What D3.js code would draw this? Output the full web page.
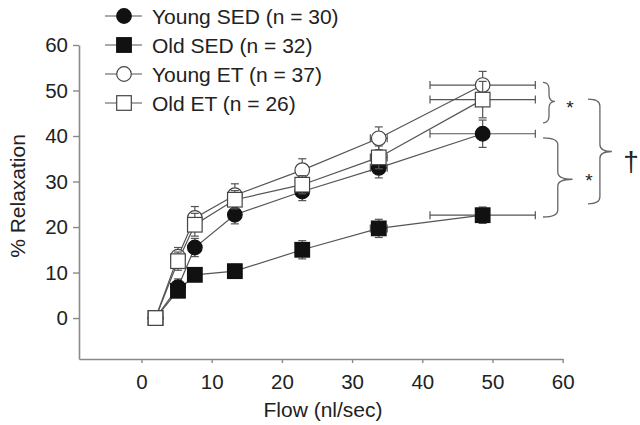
<!DOCTYPE html>
<html><head><meta charset="utf-8">
<script src="https://cdn.jsdelivr.net/npm/d3@7"></script>
<style>body{margin:0;background:#fff;} text{font-family:"Liberation Sans",Arial,sans-serif;fill:#222;}</style>
</head><body><svg id="c" width="640" height="425"></svg>
<script>
const flow = [2, 5.2, 7.6, 13.3, 22.9, 33.8, 48.6];
const flowErr = [0, 0.3, 0.4, 0.6, 0.7, 1.2, 7.5];
const seriesNames = ["Young SED (n = 30)", "Old SED (n = 32)", "Young ET (n = 37)", "Old ET (n = 26)"];
const youngSED = [0, 6.8, 15.5, 22.7, 27.8, 33.0, 40.5];
const youngSEDErr = [1, 1.8, 2, 2, 2, 2.2, 3];
const oldSED = [0, 6.0, 9.5, 10.3, 15.0, 19.7, 22.6];
const oldSEDErr = [1, 1.5, 1.5, 1.5, 2, 2, 1.8];
const youngET = [0, 13.5, 22.0, 27.0, 32.5, 39.5, 51.2];
const youngETErr = [1, 2, 2.5, 2.5, 2.5, 2.5, 3];
const oldET = [0, 12.5, 20.5, 26.0, 29.3, 35.3, 48.0];
const oldETErr = [1, 2, 2.5, 2, 2, 2.5, 4];
const xTicks = [0, 10, 20, 30, 40, 50, 60];
const yTicks = [0, 10, 20, 30, 40, 50, 60];

const svg = d3.select("#c");
const x = d3.scaleLinear().domain([-8.9, 60]).range([79, 562.7]);
const y = d3.scaleLinear().domain([-9, 60]).range([359, 45]);
const axisCol = "#8a8a8a";

// axes
const xa = svg.append("g").attr("transform", "translate(0,359)")
  .call(d3.axisBottom(x).tickValues(xTicks).tickSize(4).tickPadding(8).tickSizeOuter(0));
const ya = svg.append("g").attr("transform", "translate(79,0)")
  .call(d3.axisLeft(y).tickValues(yTicks).tickSize(6).tickPadding(5).tickSizeOuter(0));
[xa, ya].forEach(g => {
  g.select(".domain").attr("stroke", axisCol).attr("stroke-width", 1.6);
  g.selectAll(".tick line").attr("stroke", axisCol).attr("stroke-width", 1.4);
  g.selectAll(".tick text").attr("font-size", 20.5).attr("fill", "#222")
    .attr("font-family", "Liberation Sans, Arial, sans-serif");
});
xa.selectAll(".tick text").attr("dy", "0.9em");
svg.append("text").attr("x", 323).attr("y", 417).attr("text-anchor", "middle")
  .attr("font-size", 21).text("Flow (nl/sec)");
svg.append("text").attr("transform", "translate(25,196) rotate(-90)").attr("text-anchor", "middle")
  .attr("font-size", 21).text("% Relaxation");

const series = [
  {name: seriesNames[0], v: youngSED, e: youngSEDErr, shape: "circle", fill: "#111"},
  {name: seriesNames[1], v: oldSED, e: oldSEDErr, shape: "square", fill: "#111"},
  {name: seriesNames[2], v: youngET, e: youngETErr, shape: "circle", fill: "#fff"},
  {name: seriesNames[3], v: oldET, e: oldETErr, shape: "square", fill: "#fff"}
];
const lineCol = "#555";
const line = d3.line().x(d => x(d[0])).y(d => y(d[1]));
series.forEach(s => {
  svg.append("path").datum(flow.map((f, i) => [f, s.v[i]]))
    .attr("d", line).attr("fill", "none").attr("stroke", lineCol).attr("stroke-width", 1.2);
});
const cap = 4;
function marker(g, shape, cx, cy, fill, r) {
  if (shape === "circle") {
    g.append("circle").attr("cx", cx).attr("cy", cy).attr("r", r)
      .attr("fill", fill).attr("stroke", fill === "#fff" ? "#444" : "#111").attr("stroke-width", 1.2);
  } else {
    g.append("rect").attr("x", cx - r).attr("y", cy - r).attr("width", 2 * r).attr("height", 2 * r)
      .attr("fill", fill).attr("stroke", fill === "#fff" ? "#444" : "#111").attr("stroke-width", 1.2);
  }
}
series.forEach(s => {
  const g = svg.append("g");
  flow.forEach((f, i) => {
    const cx = x(f), cy = y(s.v[i]);
    const y0 = y(s.v[i] - s.e[i]), y1 = y(s.v[i] + s.e[i]);
    g.append("line").attr("x1", cx).attr("x2", cx).attr("y1", y0).attr("y2", y1).attr("stroke", lineCol).attr("stroke-width", 1.2);
    [y0, y1].forEach(yy => g.append("line").attr("x1", cx - cap).attr("x2", cx + cap).attr("y1", yy).attr("y2", yy).attr("stroke", lineCol).attr("stroke-width", 1.2));
    if (flowErr[i] > 0) {
      const x0 = x(f - flowErr[i]), x1 = x(f + flowErr[i]);
      g.append("line").attr("x1", x0).attr("x2", x1).attr("y1", cy).attr("y2", cy).attr("stroke", lineCol).attr("stroke-width", 1.2);
      [x0, x1].forEach(xx => g.append("line").attr("x1", xx).attr("x2", xx).attr("y1", cy - cap).attr("y2", cy + cap).attr("stroke", lineCol).attr("stroke-width", 1.2));
    }
  });
  flow.forEach((f, i) => marker(g, s.shape, x(f), y(s.v[i]), s.fill, 7.3));
});

// legend
series.forEach((s, i) => {
  const ly = 16 + i * 29;
  svg.append("line").attr("x1", 105).attr("x2", 142).attr("y1", ly).attr("y2", ly).attr("stroke", lineCol).attr("stroke-width", 1.2);
  marker(svg, s.shape, 124, ly, s.fill, 7.3);
  svg.append("text").attr("x", 152).attr("y", ly).attr("dy", "0.36em").attr("font-size", 21).text(s.name);
});

// significance brackets (data units)
const braces = [
  {x0: 57.2, x1: 58.9, top: 51.8, bot: 42.9, mid: 47.6},
  {x0: 57.2, x1: 61.4, top: 39.6, bot: 22.2, mid: 30.5},
  {x0: 63.6, x1: 67.0, top: 48.1, bot: 25.1, mid: 36.6}
];
braces.forEach(b => {
  const x0 = x(b.x0), x1 = x(b.x1), xm = (x0 + x1) / 2;
  const t = y(b.top), bt = y(b.bot), m = y(b.mid);
  const r = 7;
  const p = `M${x0},${t} Q${xm},${t} ${xm},${t + r} L${xm},${m - r} Q${xm},${m} ${x1},${m} Q${xm},${m} ${xm},${m + r} L${xm},${bt - r} Q${xm},${bt} ${x0},${bt}`;
  svg.append("path").attr("d", p).attr("fill", "none").attr("stroke", "#666").attr("stroke-width", 1.3);
});
svg.append("text").attr("x", 570).attr("y", 114).attr("text-anchor", "middle").attr("font-size", 19).text("*");
svg.append("text").attr("x", 589).attr("y", 187).attr("text-anchor", "middle").attr("font-size", 19).text("*");
svg.append("text").attr("x", 631).attr("y", 171).attr("text-anchor", "middle").attr("font-size", 28).text("†");
</script></body></html>
